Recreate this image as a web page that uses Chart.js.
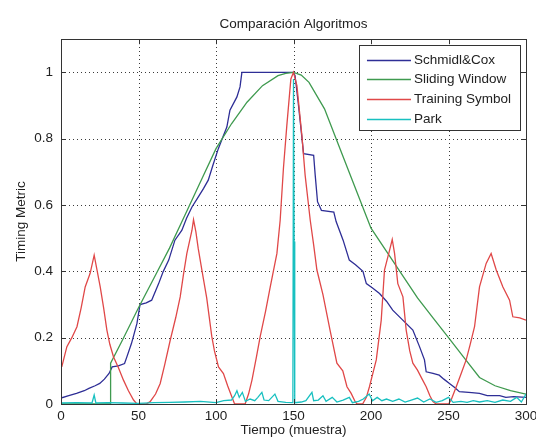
<!DOCTYPE html>
<html>
<head>
<meta charset="utf-8">
<title>Comparación Algoritmos</title>
<script src="https://cdn.jsdelivr.net/npm/chart.js@4"></script>
<style>
  body { margin: 0; background: #fff; }
</style>
</head>
<body>
<canvas id="timing-chart" width="536" height="441"></canvas>
<script>
// tick labels
var xTicks = [0, 50, 100, 150, 200, 250, 300];
var yTicks = [0, 0.2, 0.4, 0.6, 0.8, 1];

// Schmidl&Cox
var coxX = [0, 5, 10, 15, 18, 22, 25, 28, 31, 33, 37, 41, 42.5, 45.5, 49, 51, 55, 58.5, 63, 66, 69.5, 73.5, 78, 81, 84.5, 88, 92, 95, 98, 101.5, 104, 107, 109, 113.5, 115.5, 116.7,
            150, 151, 153, 155.5, 156.5, 163, 164, 165.5, 168, 176, 177.5, 182, 186, 190, 194.8, 197, 201, 205.5, 210, 214, 220.5, 227, 231.3, 234.5, 235.6, 240, 244, 247, 250.6, 254, 257, 265, 270, 275, 283, 287, 292, 300];
var coxY = [0.018, 0.025, 0.032, 0.04, 0.047, 0.055, 0.062, 0.075, 0.092, 0.112, 0.115, 0.122, 0.142, 0.183, 0.243, 0.3, 0.305, 0.313, 0.363, 0.4, 0.434, 0.494, 0.524, 0.56, 0.594, 0.62, 0.65, 0.675, 0.72, 0.77, 0.8, 0.835, 0.886, 0.926, 0.956, 1.0,
            1.0, 0.99, 0.91, 0.8, 0.755, 0.75, 0.69, 0.61, 0.584, 0.579, 0.55, 0.494, 0.434, 0.42, 0.4, 0.363, 0.35, 0.333, 0.31, 0.283, 0.253, 0.223, 0.173, 0.133, 0.097, 0.092, 0.087, 0.075, 0.062, 0.05, 0.037, 0.034, 0.032, 0.025, 0.025, 0.02, 0.022, 0.02];

// Sliding Window
var slidingX = [0, 31.7, 32, 40, 50, 60, 70, 80, 90, 100, 110, 120, 130, 140, 145, 150, 155, 160, 170, 180, 190, 200, 210, 220, 230, 240, 250, 260, 270, 280, 290, 300];
var slidingY = [0, 0, 0.123, 0.196, 0.29, 0.38, 0.47, 0.57, 0.67, 0.77, 0.845, 0.91, 0.96, 0.99, 0.997, 1.0, 0.992, 0.97, 0.89, 0.77, 0.65, 0.53, 0.46, 0.39, 0.32, 0.26, 0.2, 0.14, 0.08, 0.055, 0.04, 0.03];

// Training Symbol
var trainingX = [0.5, 2, 3.8, 7, 10.3, 13, 15.6, 18.8, 21.4, 23, 25.3, 27.5, 29.6, 31.5, 33.9, 37, 40.3, 43.5, 46.8, 49, 55, 57.5, 61, 64, 67, 70.5, 74, 76.9, 79, 81.2, 84.5, 85.5, 87, 88.5, 90.9, 94, 97.3, 99, 101.6, 104.8, 107.5, 110.2, 112,
                 118.8, 121, 123.2, 126, 128.5, 132, 135, 139.3, 141.4, 143.5, 145.7, 148.3, 150, 152.2, 155.4, 157.5, 160.8, 163, 165.1, 169, 173.7, 178, 181.8, 184.5, 187.2, 189.8, 191,
                 194.6, 197, 199, 203.4, 206.6, 208.7, 212, 213.7, 215.2, 217.3, 220.6, 222.7, 225, 227, 230, 233, 235.6, 238, 240, 242, 250, 251.7, 255, 258, 261.4, 264, 266.8, 270, 274.3, 277.5, 280.8, 285.1, 289.4, 291.5, 296, 300];
var trainingY = [0.112, 0.14, 0.173, 0.2, 0.233, 0.29, 0.353, 0.394, 0.449, 0.41, 0.353, 0.29, 0.223, 0.18, 0.142, 0.11, 0.072, 0.04, 0.012, 0, 0, 0.007, 0.03, 0.062, 0.12, 0.193, 0.26, 0.323, 0.39, 0.454, 0.524, 0.556, 0.52, 0.47, 0.404, 0.32, 0.203, 0.16, 0.112, 0.092, 0.055, 0.022, 0,
                 0, 0.03, 0.072, 0.14, 0.203, 0.28, 0.353, 0.454, 0.554, 0.71, 0.84, 0.98, 1.0, 0.96, 0.81, 0.69, 0.554, 0.48, 0.404, 0.33, 0.22, 0.123, 0.1, 0.052, 0.032, 0.007, 0,
                 0, 0.02, 0.052, 0.133, 0.253, 0.404, 0.464, 0.496, 0.454, 0.363, 0.323, 0.223, 0.16, 0.123, 0.102, 0.075, 0.052, 0.025, 0.007, 0, 0, 0.012, 0.052, 0.09, 0.133, 0.18, 0.233, 0.353, 0.424, 0.454, 0.404, 0.353, 0.313, 0.263, 0.26, 0.253];

// Park
var parkX = [0, 10, 20, 21.4, 22.5, 30, 40, 50, 60, 70, 80, 90, 100, 105, 110, 112, 113.5, 115, 117, 119, 122, 125, 127, 129.6, 131, 134, 136, 138, 140, 145, 149.6, 150, 150.4, 150.8,
             155, 158, 161.9, 163, 166, 169, 171, 175, 178, 182, 186, 188, 192, 195, 198.8, 201, 204, 207, 210, 214, 218, 222, 226, 230, 234, 238, 242, 246, 250, 253, 258, 262, 266, 270, 275, 280, 285, 290, 294, 297, 300];
var parkY = [0.003, 0.004, 0.003, 0.027, 0.003, 0.004, 0.003, 0.002, 0.004, 0.005, 0.006, 0.008, 0.004, 0.01, 0.012, 0.025, 0.04, 0.02, 0.035, 0.008, 0.015, 0.01, 0.02, 0.035, 0.012, 0.01, 0.02, 0.03, 0.008, 0.005, 0.004, 0.98, 0.49, 0.004,
             0.006, 0.01, 0.035, 0.01, 0.012, 0.025, 0.008, 0.02, 0.006, 0.012, 0.02, 0.004, 0.008, 0.015, 0.03, 0.01, 0.02, 0.01, 0.015, 0.008, 0.015, 0.006, 0.012, 0.018, 0.006, 0.015, 0.005, 0.01, 0.02, 0.005, 0.008, 0.005, 0.01, 0.006, 0.01, 0.005, 0.012, 0.008, 0.02, 0.006, 0.03];

function toPoints(xs, ys) {
    return xs.map(function (x, i) { return { x: x, y: ys[i] }; });
}

var FONT = "'Liberation Sans', Arial, sans-serif";

// dotted grid at the tick positions, under the lines
var dottedGrid = {
    id: 'dottedGrid',
    beforeDatasetsDraw: function (chart) {
        var ctx = chart.ctx, a = chart.chartArea;
        var xs = chart.scales.x, ys = chart.scales.y;
        ctx.save();
        ctx.strokeStyle = '#3a3a3a';
        ctx.lineWidth = 1;
        ctx.setLineDash([1, 3]);
        ctx.beginPath();
        xTicks.forEach(function (v) {
            var px = Math.round(xs.getPixelForValue(v)) + 0.5;
            ctx.moveTo(px, a.bottom); ctx.lineTo(px, a.top);
        });
        yTicks.forEach(function (v) {
            var py = Math.round(ys.getPixelForValue(v)) + 0.5;
            ctx.moveTo(a.left, py); ctx.lineTo(a.right, py);
        });
        ctx.stroke();
        ctx.restore();
    }
};

// box round the axes + inward tick marks (matlab look)
var axesBox = {
    id: 'axesBox',
    afterDraw: function (chart) {
        var ctx = chart.ctx, a = chart.chartArea;
        var xs = chart.scales.x, ys = chart.scales.y;
        ctx.save();
        ctx.strokeStyle = '#333';
        ctx.lineWidth = 1;
        ctx.strokeRect(Math.round(a.left) + 0.5, Math.round(a.top) + 0.5, Math.round(a.right - a.left), Math.round(a.bottom - a.top));
        ctx.beginPath();
        xTicks.forEach(function (v) {
            var px = Math.round(xs.getPixelForValue(v)) + 0.5;
            ctx.moveTo(px, a.bottom); ctx.lineTo(px, a.bottom - 5);
            ctx.moveTo(px, a.top); ctx.lineTo(px, a.top + 5);
        });
        yTicks.forEach(function (v) {
            var py = Math.round(ys.getPixelForValue(v)) + 0.5;
            ctx.moveTo(a.left, py); ctx.lineTo(a.left + 5, py);
            ctx.moveTo(a.right, py); ctx.lineTo(a.right - 5, py);
        });
        ctx.stroke();
        ctx.restore();
    }
};

// legend box in the upper right corner of the axes
var boxLegend = {
    id: 'boxLegend',
    afterDraw: function (chart) {
        var ctx = chart.ctx, a = chart.chartArea;
        var sets = chart.data.datasets;
        ctx.save();
        ctx.font = '13.5px ' + FONT;
        var textW = 0;
        sets.forEach(function (d) { textW = Math.max(textW, ctx.measureText(d.label).width); });
        var lineLen = 44, pad = 8, rowH = 19.7;
        var w = pad + lineLen + 3 + textW + 9;
        var h = 85;
        var right = Math.round(a.right) - 6, top = Math.round(a.top) + 6;
        var left = right - w;
        ctx.fillStyle = '#fff';
        ctx.fillRect(left, top, w, h);
        ctx.strokeStyle = '#333';
        ctx.lineWidth = 1;
        ctx.strokeRect(Math.round(left) + 0.5, top + 0.5, Math.round(w), h);
        sets.forEach(function (d, i) {
            var y = Math.round(top + 14.5 + i * rowH) + 0.5;
            ctx.strokeStyle = d.borderColor;
            ctx.lineWidth = 1.3;
            ctx.beginPath();
            ctx.moveTo(left + pad, y);
            ctx.lineTo(left + pad + lineLen, y);
            ctx.stroke();
            ctx.fillStyle = '#222';
            ctx.textBaseline = 'middle';
            ctx.fillText(d.label, left + pad + lineLen + 3, y);
        });
        ctx.restore();
    }
};

new Chart(document.getElementById('timing-chart'), {
    type: 'line',
    data: {
        datasets: [
            {
                label: 'Schmidl&Cox',
                data: toPoints(coxX, coxY),
                borderColor: '#2e2e96',
                order: 4
            }, {
                label: 'Sliding Window',
                data: toPoints(slidingX, slidingY),
                borderColor: '#3f9a4f',
                order: 3
            }, {
                label: 'Training Symbol',
                data: toPoints(trainingX, trainingY),
                borderColor: '#e04848',
                order: 2
            }, {
                label: 'Park',
                data: toPoints(parkX, parkY),
                borderColor: '#18c0c0',
                order: 1
            }
        ]
    },
    options: {
        responsive: false,
        animation: false,
        datasets: {
            line: { borderWidth: 1.3, pointRadius: 0, fill: false, tension: 0 }
        },
        layout: { padding: { left: 0, right: 10, top: 0, bottom: 0 } },
        plugins: {
            legend: { display: false },
            tooltip: { enabled: false },
            title: {
                display: true,
                text: 'Comparación Algoritmos',
                fullSize: false,
                color: '#222',
                font: { family: FONT, size: 13.5, weight: 'normal' },
                padding: { top: 16, bottom: 7 }
            }
        },
        scales: {
            x: {
                type: 'linear',
                min: 0,
                max: 300,
                afterFit: function (s) { s.height = 37; s.paddingLeft = 0; s.paddingRight = 0; },
                afterBuildTicks: function (s) { s.ticks = xTicks.map(function (v) { return { value: v }; }); },
                ticks: {
                    color: '#222',
                    padding: 4,
                    maxRotation: 0,
                    font: { family: FONT, size: 13.5 },
                    callback: function (v) { return String(v); }
                },
                grid: { display: false, drawTicks: false },
                border: { display: false },
                title: {
                    display: true,
                    text: 'Tiempo (muestra)',
                    color: '#222',
                    font: { family: FONT, size: 13.5 },
                    padding: { top: 0, bottom: 3 }
                }
            },
            y: {
                min: 0,
                max: 1.1,
                afterFit: function (s) { s.width = 61; s.paddingTop = 0; s.paddingBottom = 0; },
                afterBuildTicks: function (s) { s.ticks = yTicks.map(function (v) { return { value: v }; }); },
                ticks: {
                    color: '#222',
                    padding: 8,
                    font: { family: FONT, size: 13.5 },
                    callback: function (v) { return String(Math.round(v * 10) / 10); }
                },
                grid: { display: false, drawTicks: false },
                border: { display: false },
                title: {
                    display: true,
                    text: 'Timing Metric',
                    color: '#222',
                    font: { family: FONT, size: 13.5 },
                    padding: { top: 13, bottom: 0 }
                }
            }
        }
    },
    plugins: [dottedGrid, axesBox, boxLegend]
});
</script>
</body>
</html>
